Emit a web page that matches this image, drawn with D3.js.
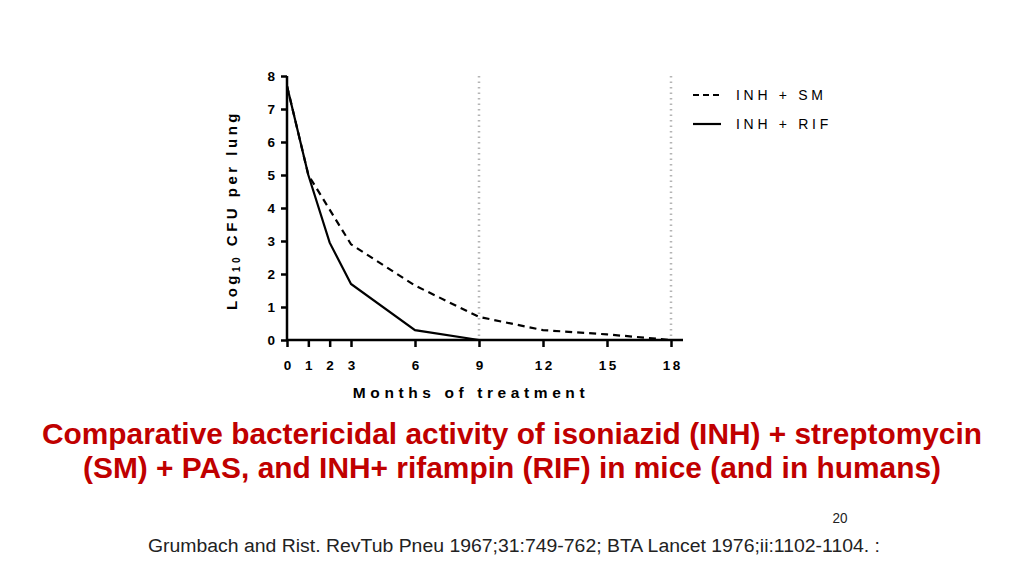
<!DOCTYPE html>
<html><head><meta charset="utf-8">
<script src="https://cdn.jsdelivr.net/npm/d3@7"></script>
<style>body{margin:0;background:#fff}svg{display:block}</style>
</head><body>
<svg id="c" width="1024" height="576"></svg>
<script>
const months = [0, 1, 2, 3, 6, 9, 12, 15, 18];
const xTicks = [0, 1, 2, 3, 6, 9, 12, 15, 18];
const yTicks = [0, 1, 2, 3, 4, 5, 6, 7, 8];
const smMonths = [0, 1, 3, 6, 9, 12, 15, 18];
const smValues = [7.7, 5.0, 2.9, 1.65, 0.7, 0.3, 0.17, 0];
const rifMonths = [0, 1, 2, 3, 6, 9];
const rifValues = [7.7, 5.0, 2.95, 1.7, 0.3, 0];
const refLines = [9, 18];
const seriesNames = ["INH + SM", "INH + RIF"];

const svg = d3.select("#c");
const x = d3.scaleLinear().domain([0, 18]).range([287, 671]);
const y = d3.scaleLinear().domain([0, 8]).range([340, 76]);
const F = "'Liberation Sans', Arial, sans-serif";

// reference dotted lines
svg.selectAll(".ref").data(refLines).enter().append("line")
  .attr("x1", d => x(d)).attr("x2", d => x(d))
  .attr("y1", y(8)).attr("y2", y(0))
  .attr("stroke", "#b5b5b5").attr("stroke-width", 2.5).attr("stroke-dasharray", "1.5,4");

// axes
const yAx = svg.append("g").attr("transform", `translate(${x(0)},0)`)
  .call(d3.axisLeft(y).tickValues(yTicks).tickSize(6).tickPadding(6).tickFormat(d3.format("d")));
const xAx = svg.append("g").attr("transform", `translate(0,${y(0)})`)
  .call(d3.axisBottom(x).tickValues(xTicks).tickSize(7).tickPadding(13).tickFormat(d3.format("d")));
xAx.select(".domain").attr("d", `M${x(0)},0H${x(18)+12}`);
yAx.select(".domain").attr("d", `M0,${y(8)}V${y(0)}`);
[xAx, yAx].forEach(g => {
  g.select(".domain").attr("stroke", "#000").attr("stroke-width", 2.5);
  g.selectAll(".tick line").attr("stroke", "#000").attr("stroke-width", 2.5);
  g.selectAll(".tick text").attr("fill", "#000").attr("font-family", F)
    .attr("font-weight", "bold").attr("font-size", 13.5);
});
xAx.selectAll(".tick text").attr("letter-spacing", 2.5).attr("dx", 1.2);

// lines
const line = d3.line().x(d => x(d[0])).y(d => y(d[1]));
const smData = smMonths.map((m, i) => [m, smValues[i]]);
const rifData = rifMonths.map((m, i) => [m, rifValues[i]]);
svg.append("path").datum(smData).attr("d", line).attr("fill", "none")
  .attr("stroke", "#000").attr("stroke-width", 2.2).attr("stroke-dasharray", "7,5");
svg.append("path").datum(rifData).attr("d", line).attr("fill", "none")
  .attr("stroke", "#000").attr("stroke-width", 2.2);

// axis titles
svg.append("text").attr("x", 471).attr("y", 398).attr("text-anchor", "middle")
  .attr("font-family", F).attr("font-weight", "bold").attr("font-size", 15.5)
  .attr("letter-spacing", 4.6).text("Months of treatment");
const yl = svg.append("text").attr("transform", "translate(237,210) rotate(-90)")
  .attr("text-anchor", "middle").attr("font-family", F).attr("font-weight", "bold")
  .attr("font-size", 15).attr("letter-spacing", 3.5);
yl.append("tspan").text("Log");
yl.append("tspan").attr("font-size", 10).attr("dy", 3).text("10");
yl.append("tspan").attr("dy", -3).text(" CFU per lung");

// legend
const leg = svg.append("g");
seriesNames.forEach((n, i) => {
  const ly = 95 + i * 29;
  leg.append("line").attr("x1", 693).attr("x2", 721).attr("y1", ly).attr("y2", ly)
    .attr("stroke", "#000").attr("stroke-width", 2.2)
    .attr("stroke-dasharray", i === 0 ? "6,4" : null);
  leg.append("text").attr("x", 736).attr("y", ly + 5).attr("font-family", F)
    .attr("font-size", 14).attr("letter-spacing", 3.7).attr("fill", "#000").text(n);
});

// title
const title = ["Comparative bactericidal activity of isoniazid (INH) + streptomycin",
  "(SM) + PAS, and INH+ rifampin (RIF) in mice (and in humans)"];
const titleW = [940, 858];
title.forEach((t, i) => {
  svg.append("text").attr("x", 512).attr("y", 444 + i * 34).attr("text-anchor", "middle")
    .attr("font-family", F).attr("font-weight", "bold").attr("font-size", 29.5)
    .attr("textLength", titleW[i]).attr("lengthAdjust", "spacingAndGlyphs")
    .attr("fill", "#c00000").text(t);
});

// page number & footer
svg.append("text").attr("x", 840).attr("y", 523).attr("text-anchor", "middle")
  .attr("font-family", F).attr("textLength", 15).attr("lengthAdjust", "spacingAndGlyphs")
  .attr("font-size", 14).attr("fill", "#222").text("20");
svg.append("text").attr("x", 148).attr("y", 552)
  .attr("font-family", F)
  .attr("font-size", 18).attr("fill", "#222")
  .attr("textLength", 732).attr("lengthAdjust", "spacingAndGlyphs")
  .text("Grumbach and Rist. RevTub Pneu 1967;31:749-762; BTA Lancet 1976;ii:1102-1104. :");
</script>
</body></html>
